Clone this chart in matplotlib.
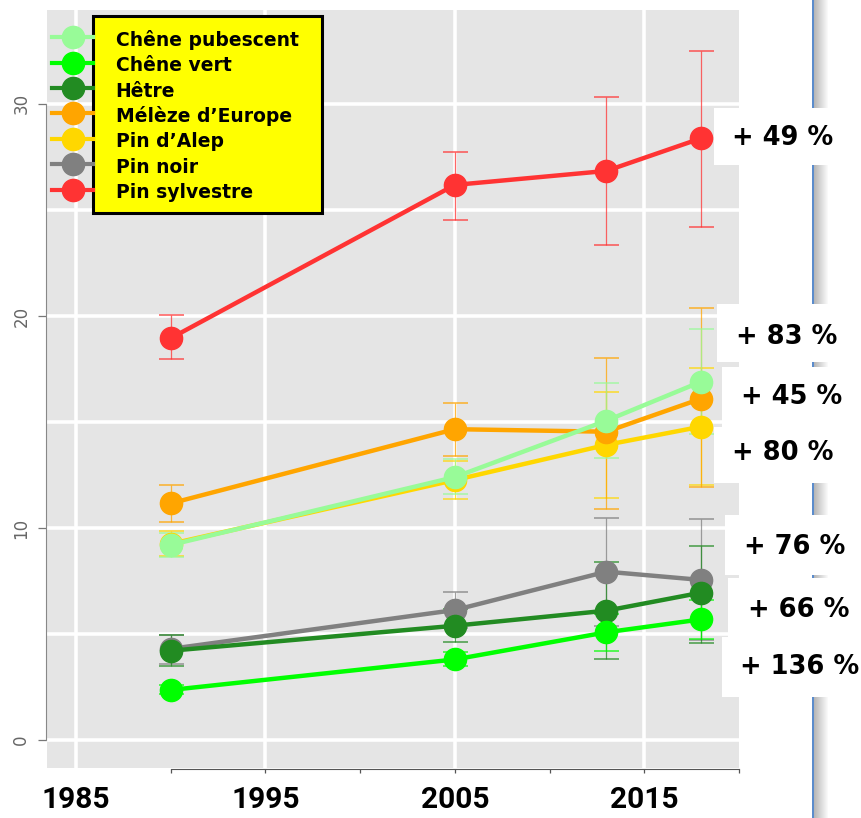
import numpy as np
import matplotlib.pyplot as plt
from matplotlib.patches import Rectangle
from matplotlib.lines import Line2D

# data
years = [1990, 2005, 2013, 2018]
species = ['Chêne pubescent', 'Chêne vert', 'Hêtre', 'Mélèze d’Europe',
           'Pin d’Alep', 'Pin noir', 'Pin sylvestre']
colors = ['#98FB98', '#00FF00', '#228B22', '#FFA500', '#FFD700', '#808080', '#FF3333']

chene_pub = [9.2, 12.4, 15.06, 16.9]
chene_vert = [2.36, 3.8, 5.08, 5.69]
hetre = [4.21, 5.39, 6.1, 6.95]
meleze = [11.16, 14.66, 14.54, 16.1]
pin_alep = [9.25, 12.26, 13.92, 14.78]
pin_noir = [4.3, 6.13, 7.94, 7.55]
pin_sylv = [18.95, 26.18, 26.84, 28.38]

chene_pub_lo, chene_pub_hi = [8.65, 11.59, 13.3, 14.42], [9.75, 13.24, 16.86, 19.37]
chene_vert_lo, chene_vert_hi = [2.15, 3.49, 4.21, 4.75], [2.6, 4.17, 5.95, 6.6]
hetre_lo, hetre_hi = [3.5, 4.6, 3.8, 4.56], [4.95, 6.2, 8.4, 9.15]
meleze_lo, meleze_hi = [10.3, 13.4, 10.9, 11.95], [12.01, 15.91, 18.03, 20.36]
pin_alep_lo, pin_alep_hi = [8.7, 11.37, 11.43, 12.03], [9.87, 13.15, 16.43, 17.53]
pin_noir_lo, pin_noir_hi = [3.6, 5.26, 5.4, 4.7], [4.95, 7.0, 10.49, 10.41]
pin_sylv_lo, pin_sylv_hi = [17.96, 24.53, 23.35, 24.21], [20.03, 27.75, 30.33, 32.5]

pct_labels = ['+ 49 %', '+ 83 %', '+ 45 %', '+ 80 %', '+ 76 %', '+ 66 %', '+ 136 %']
xtick_years = [1985, 1995, 2005, 2015]

means = [chene_pub, chene_vert, hetre, meleze, pin_alep, pin_noir, pin_sylv]
lows = [chene_pub_lo, chene_vert_lo, hetre_lo, meleze_lo, pin_alep_lo, pin_noir_lo, pin_sylv_lo]
highs = [chene_pub_hi, chene_vert_hi, hetre_hi, meleze_hi, pin_alep_hi, pin_noir_hi, pin_sylv_hi]

W, H = 862, 818
fig = plt.figure(figsize=(W / 100, H / 100), dpi=100)
ax = fig.add_axes([47 / W, 1 - 768 / H, 692 / W, 758 / H])
ax.set_facecolor('#E5E5E5')

# spines first: set_position resets the ticks
for s in ['top', 'right']:
    ax.spines[s].set_visible(False)
ax.spines['left'].set_position(('outward', 1))
ax.spines['left'].set_bounds(0, 30)
ax.spines['left'].set_color('#888888')
ax.spines['bottom'].set_position(('outward', 1))
ax.spines['bottom'].set_bounds(1990, 2020)
ax.spines['bottom'].set_color('#555555')

# error bars under the points, series drawn last-to-first
for i in reversed(range(len(species))):
    m = np.array(means[i])
    err = [m - np.array(lows[i]), np.array(highs[i]) - m]
    ax.errorbar(years, m, yerr=err, fmt='none', ecolor=colors[i], elinewidth=0.9,
                capsize=9, capthick=1.2, alpha=0.75, zorder=2)
for i in reversed(range(len(species))):
    ax.plot(years, means[i], color=colors[i], lw=3.2, marker='o', ms=16,
            solid_capstyle='round', zorder=3)

ax.set_xlim(1983.47, 2019.96)
ax.set_ylim(-1.32, 34.43)

ax.xaxis.grid(True, which='major', color='white', lw=2.6)
ax.yaxis.grid(True, which='both', color='white', lw=2.6)
ax.set_axisbelow(True)

ax.set_xticks(xtick_years)
ax.set_xticks(range(1990, 2021, 5), minor=True)
ax.xaxis.remove_overlapping_locs = False
ax.tick_params(axis='x', which='major', length=0, pad=12)
ax.tick_params(axis='x', which='minor', length=3, width=0.9, color='#555555')

ax.set_yticks([0, 10, 20, 30])
ax.set_yticks([5, 15, 25], minor=True)
ax.tick_params(axis='y', which='major', length=6, width=0.9, color='#777777', pad=5,
               labelsize=12, labelcolor='#666666', labelrotation=90)
ax.tick_params(axis='y', which='minor', length=0)

ax.set_xticklabels([str(y) for y in xtick_years], fontsize=21.5, fontweight='bold',
                   family=['Roboto', 'DejaVu Sans'])
for lab in ax.get_yticklabels():
    lab.set_va('center')

# legend: handles stick out left of the yellow box
handles = [Line2D([], [], color=c, lw=3, marker='o', ms=16) for c in colors]
leg = ax.legend(handles, species, loc='upper left', bbox_to_anchor=(0.0072, 0.9754),
                frameon=False, handlelength=2.2, handleheight=1.4, handletextpad=1.2,
                labelspacing=0.2, borderpad=0, borderaxespad=0,
                prop=dict(weight='bold', size=13.5))
leg.set_zorder(6)
ax.add_patch(Rectangle((0.0665, 0.7322), 0.3309, 0.2599, transform=ax.transAxes,
                       facecolor='#FFFF00', edgecolor='black', lw=2.2, zorder=5, clip_on=False))

# slide decoration on the right
axg = fig.add_axes([812 / W, 0, 17 / W, 1])
grad = np.ones((1, 17, 3))
grad[0, 0:2] = [0.36, 0.55, 0.8]
for k in range(2, 17):
    v = 0.72 + 0.28 * (k - 2) / 14
    grad[0, k] = [v, v, v]
axg.imshow(grad, aspect='auto')
axg.axis('off')

# white label boxes (px: x0, y0, y1, text x, text y)
boxes = [(714, 108, 165, 783, 138), (717, 304, 362, 787, 337), (722, 367, 427, 792, 397),
         (714, 427, 483, 783, 453), (725, 515, 575, 795, 547), (728, 578, 637, 799, 610),
         (722, 637, 697, 800, 667)]
for lab, (x0, y0, y1, tx, ty) in zip(pct_labels, boxes):
    fig.add_artist(Rectangle((x0 / W, 1 - y1 / H), (W - x0) / W, (y1 - y0) / H,
                             transform=fig.transFigure, facecolor='white',
                             edgecolor='none', zorder=1))
    fig.text(tx / W, 1 - ty / H, lab, ha='center', va='center', fontsize=18.5,
             fontweight='bold', zorder=3)

fig.savefig('out.png', dpi=100)
